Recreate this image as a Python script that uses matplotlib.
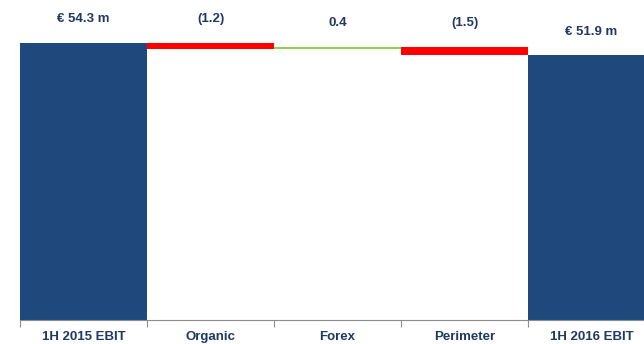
import matplotlib.pyplot as plt

categories = ['1H 2015 EBIT', 'Organic', 'Forex', 'Perimeter', '1H 2016 EBIT']
start_value = 54.3
deltas = [-1.2, 0.4, -1.5]
end_value = 51.9
labels = ['€ 54.3 m', '(1.2)', '0.4', '(1.5)', '€ 51.9 m']

navy = '#1F497D'
txt = '#1F3864'

fig = plt.figure(figsize=(6.44, 3.44), dpi=100)
# axis line sits at y=320px, first bar starts at x=20px, category width ~127px
ax = fig.add_axes([20/644, 24/344, 624/644, 320/344])

tops = [start_value]
ax.bar(0, start_value, width=1.0, color=navy)
level = start_value
for i, d in enumerate(deltas, start=1):
    new = level + d
    ax.bar(i, abs(d), bottom=min(level, new), width=1.0,
           color='#FF0000' if d < 0 else '#92D050')
    tops.append(max(level, new))
    level = new
ax.bar(4, end_value, width=1.0, color=navy)
tops.append(end_value)

for i, (t, lab) in enumerate(zip(tops, labels)):
    ax.annotate(lab, (i, t), xytext=(0, 17), textcoords='offset points',
                ha='center', va='center', fontsize=9.5, fontweight='bold',
                color=txt, family='Liberation Sans')

for s in ['top', 'right', 'left']:
    ax.spines[s].set_visible(False)
ax.spines['bottom'].set_color('#8C8C8C')
ax.set_yticks([])
ax.set_xticks([-0.5, 0.5, 1.5, 2.5, 3.5])
ax.set_xticklabels([])
ax.tick_params(axis='x', which='major', length=5, color='#8C8C8C', direction='out')
ax.set_xticks(range(5), minor=True)
ax.set_xticklabels(categories, minor=True, fontsize=9.5, fontweight='bold',
                   color=txt, family='Liberation Sans')
ax.tick_params(axis='x', which='minor', length=0, pad=8)

scale = 277 / start_value
ax.set_ylim(0, 320 / scale)
ax.set_xlim(-0.5, -0.5 + 624 / 127)

fig.savefig('out.png', dpi=100)
